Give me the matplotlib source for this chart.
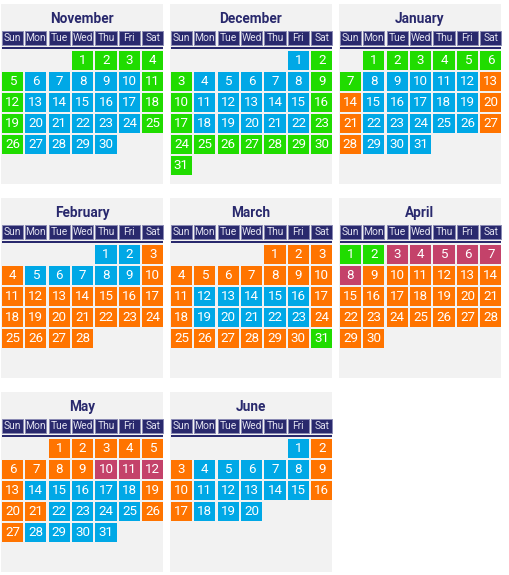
import matplotlib
matplotlib.use("Agg")
import matplotlib.pyplot as plt
from matplotlib.patches import Rectangle

# ---- data ----
months = ["November", "December", "January", "February", "March", "April", "May", "June"]
start_weekday = [3, 5, 1, 4, 4, 0, 2, 5]          # 0 = Sunday
weekdays = ["Sun", "Mon", "Tue", "Wed", "Thu", "Fri", "Sat"]
# colour category per day (G green, B blue, O orange, R crimson)
day_codes = [
    "GGGG" + "G" + "BBBBB" + "GG" + "BBBBB" + "GG" + "BBBBB" + "GG" + "BBBB",
    "BG" + "G" + "BBBBB" + "GG" + "BBBBB" + "GG" + "BBBBB" + "G" + "GGGGGGGG",
    "GGGGGG" + "G" + "BBBBB" + "OO" + "BBBBB" + "OO" + "BBBBB" + "OO" + "BBB",
    "BB" + "O" + "O" + "BBBBB" + "O" + "O" * 18,
    "O" * 11 + "BBBBB" + "OO" + "BBBBB" + "O" * 7 + "G",
    "GG" + "RRRRRR" + "O" * 22,
    "O" * 9 + "RRR" + "O" + "BBBBB" + "OOO" + "BBBB" + "OO" + "BBBB",
    "BO" + "O" + "BBBBB" + "OO" + "BBBBB" + "OO" + "BBB",
]
palette = {"G": "#20dc00", "B": "#00a8e6", "O": "#ff7400", "R": "#c4426a"}

NAVY = "#29296d"
BG = "#f2f2f2"

plt.rcParams['font.family'] = ['Roboto', 'DejaVu Sans']

fig = plt.figure(figsize=(5.09, 5.75), dpi=100)
ax = fig.add_axes([0, 0, 1, 1])
ax.set_xlim(0, 509)
ax.set_ylim(575, 0)
ax.axis("off")

PW, PH = 162, 180
CW, CH = 21.2, 19
XP, YP = 23.4, 21

for i, (name, sw, codes) in enumerate(zip(months, start_weekday, day_codes)):
    col, row = i % 3, i // 3
    px = 1 + col * 169
    py = 4 + row * 194
    ax.add_patch(Rectangle((px, py), PW, PH, facecolor=BG, edgecolor="none"))
    ax.text(px + PW / 2, py + 15, name, ha="center", va="center",
            fontsize=9.8, fontweight="bold", color=NAVY)
    for c, wd in enumerate(weekdays):
        x = px + 0.8 + c * XP
        ax.add_patch(Rectangle((x, py + 27), CW, 13.5, facecolor=NAVY,
                               edgecolor="#8a8ab4", linewidth=0.7))
        ax.text(x + CW / 2, py + 34, wd, ha="center", va="center",
                fontsize=7.4, color="#e2e2f0")
    ax.add_patch(Rectangle((px + 0.8, py + 43), PW - 0.5, 2.2,
                           facecolor=NAVY, edgecolor="none"))
    for d, code in enumerate(codes):
        pos = sw + d
        r, c = pos // 7, pos % 7
        x = px + 0.8 + c * XP
        y = py + 46.5 + r * YP
        ax.add_patch(Rectangle((x, y), CW, CH, facecolor=palette[code], edgecolor="none"))
        ax.text(x + CW / 2, y + CH / 2 + 0.5, str(d + 1), ha="center", va="center",
                fontsize=9.6, color="white")

fig.savefig("out.png", dpi=100)
